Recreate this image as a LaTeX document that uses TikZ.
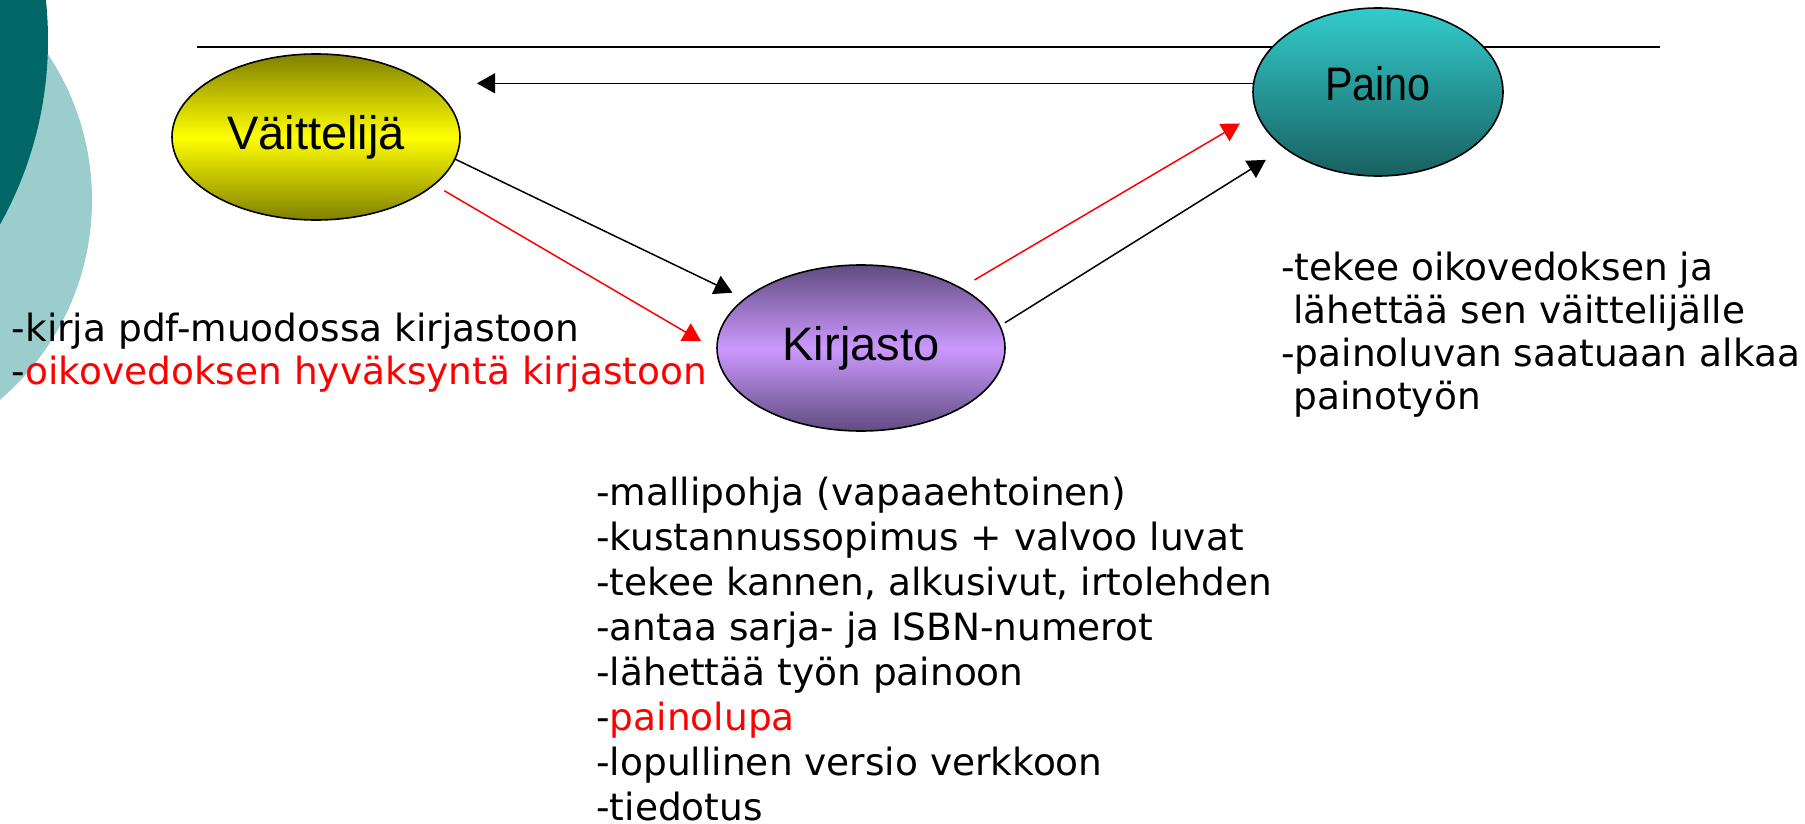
\documentclass[tikz,border=0pt]{standalone}
\usepackage{graphicx}
\usepackage{fontspec}
\setmainfont{DejaVu Sans}
\newfontfamily\arialfont{Liberation Sans}
\usetikzlibrary{arrows.meta, shapes.geometric}

\definecolor{darkteal}{RGB}{0,102,102}
\definecolor{paleteal}{RGB}{155,205,205}
\definecolor{olivetop}{RGB}{128,128,0}
\definecolor{purpleedge}{RGB}{96,76,128}
\definecolor{purplemid}{RGB}{204,153,255}
\definecolor{cyantop}{RGB}{51,204,204}
\definecolor{tealbottom}{RGB}{24,96,96}

\begin{document}
\begin{tikzpicture}[x=0.5pt, y=-0.5pt, >={Triangle[length=9pt, width=10pt]},
    bubble/.style={ellipse, draw, line width=0.8pt, inner sep=0pt, outer sep=0pt,
        font=\arialfont\fontsize{23.5pt}{28pt}\selectfont},
    notes/.style={align=left, anchor=base west, inner sep=0pt,
        font=\fontsize{18.75pt}{21.5pt}\selectfont},
    link/.style={->, line width=0.75pt}]

    % Background
    \useasboundingbox (0,0) rectangle (1805,824);
    \clip (0,0) rectangle (1805,824);
    \fill[paleteal] (-171,200) circle[radius=131.5pt];
    \fill[darkteal] (-330,40) circle[radius=189pt];
    \draw[line width=1pt] (197,47) -- (1660,47);

    % Nodes
    \node (vaitt) [bubble, minimum width=144pt, minimum height=83pt,
        top color=olivetop, bottom color=olivetop, middle color=yellow] at (316,137) {Väittelijä};
    \node (kirj) [bubble, minimum width=144pt, minimum height=83pt,
        top color=purpleedge, bottom color=purpleedge, middle color=purplemid] at (861,348) {Kirjasto};
    \node (paino) [bubble, minimum width=125pt, minimum height=84pt,
        top color=cyantop, bottom color=tealbottom] at (1378,92) {\raisebox{9pt}{\scalebox{0.88}[1]{Paino}}};

    % Notes (base = last line)
    \node (vaittnote) [notes] at (11.5,384) {-kirja pdf-muodossa kirjastoon\\-\textcolor{red}{oikovedoksen hyväksyntä kirjastoon}};
    \node (painonote) [notes] at (1281,409) {-tekee oikovedoksen ja\\\ lähettää sen väittelijälle\\-painoluvan saatuaan alkaa\\\ painotyön};
    \node (kirjnote) [notes, font=\fontsize{18.75pt}{22.5pt}\selectfont] at (596,820) {-mallipohja (vapaaehtoinen)\\-kustannussopimus + valvoo luvat\\-tekee kannen, alkusivut, irtolehden\\-antaa sarja- ja ISBN-numerot\\-lähettää työn painoon\\-\textcolor{red}{painolupa}\\-lopullinen versio verkkoon\\-tiedotus};

    % Arrows
    \draw[link, shorten >=8.5pt] (paino.176) -- (paino.176 -| vaitt.east);
    \draw[link, shorten >=7pt] (vaitt.-9) -- (kirj.157);
    \draw[link, red, shorten <=6pt, shorten >=9.25pt] (vaitt.-22) -- (kirj.181);
    \draw[link, red, shorten <=8pt, shorten >=10pt] (kirj.31) -- (paino.190);
    \draw[link, shorten <=3pt, shorten >=11.2pt] (kirj.9) -- (paino.211);

\end{tikzpicture}
\end{document}
